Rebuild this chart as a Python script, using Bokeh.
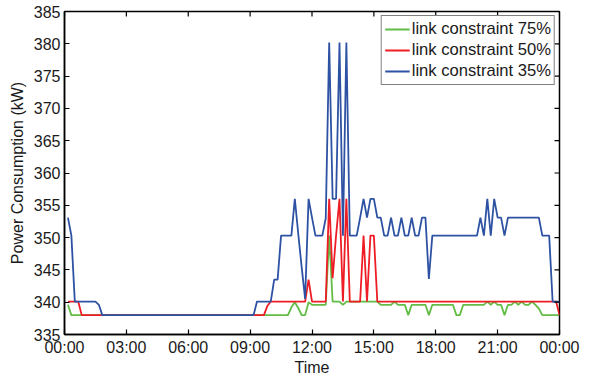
import math
from bokeh.plotting import figure
from bokeh.models import FixedTicker, Range1d
from bokeh.embed import file_html
from bokeh.resources import INLINE

# ---------------- data ----------------
x_tick_hours = [0, 3, 6, 9, 12, 15, 18, 21, 24]
x_tick_labels = ["00:00", "03:00", "06:00", "09:00", "12:00",
                 "15:00", "18:00", "21:00", "00:00"]
y_ticks = [335, 340, 345, 350, 355, 360, 365, 370, 375, 380, 385]

series_names = ["link constraint 75%", "link constraint 50%", "link constraint 35%"]
series_colors = ["#62BC45", "#EE1D25", "#2E52A3"]

# link constraint 75% (vertices of the polyline)
t75 = ["00:10", "00:20", "10:50", "11:00", "11:10", "11:20", "11:30", "11:40",
       "11:50", "12:00", "12:40", "12:50", "13:00", "13:20", "13:30", "13:40",
       "15:10", "15:20", "15:50", "16:00", "16:10", "16:30", "16:40", "16:50",
       "17:30", "17:40", "17:50", "18:50", "19:00", "19:10", "19:20", "20:20",
       "20:30", "20:40", "20:50", "21:00", "21:10", "21:20", "21:30", "21:40",
       "21:50", "22:00", "22:10", "22:20", "22:30", "22:40", "22:50", "23:00",
       "23:10", "24:00"]
v75 = [339.6, 338.0, 338.0, 339.2, 340.0, 339.1, 338.0, 338.0,
       340.0, 339.6, 339.6, 350.3, 340.1, 340.1, 339.6, 340.1,
       340.1, 339.6, 339.6, 340.1, 339.6, 339.6, 338.0, 339.6,
       339.6, 338.0, 339.6, 339.6, 338.0, 338.0, 339.6, 339.6,
       340.1, 339.6, 340.1, 339.6, 339.6, 338.0, 339.6, 339.6,
       340.1, 339.6, 340.1, 339.6, 339.6, 340.1, 339.6, 339.0,
       338.0, 338.0]

# link constraint 50%
t50 = ["00:10", "00:40", "00:50", "09:40", "09:50", "10:00", "11:40", "11:50",
       "12:00", "12:40", "12:50", "13:00", "13:10", "13:20", "13:30", "13:40",
       "13:50", "14:20", "14:30", "14:40", "14:50", "15:00", "15:10", "23:50",
       "24:00"]
v50 = [340.1, 340.1, 338.0, 338.0, 339.4, 340.1, 340.1, 343.5,
       340.1, 340.1, 356.0, 343.7, 350.3, 356.0, 340.1, 356.0,
       340.1, 340.1, 350.3, 340.1, 350.3, 350.3, 340.1, 340.1,
       338.0]

# link constraint 35%
t35 = ["00:10", "00:20", "00:30", "01:30", "01:40", "01:50", "09:10", "09:20",
       "10:00", "10:10", "10:20", "10:30", "11:00", "11:10", "11:20", "11:30",
       "11:40", "11:50", "12:00", "12:10", "12:30", "12:40", "12:50", "13:00",
       "13:10", "13:20", "13:30", "13:40", "13:50", "14:10", "14:20", "14:30",
       "14:40", "14:50", "15:00", "15:10", "15:20", "15:30", "15:40", "15:50",
       "16:00", "16:10", "16:20", "16:30", "16:40", "16:50", "17:00", "17:10",
       "17:20", "17:30", "17:40", "17:50", "20:00", "20:10", "20:20", "20:30",
       "20:40", "20:50", "21:00", "21:10", "21:20", "21:30", "23:00", "23:10",
       "23:30", "23:40", "24:00"]
v35 = [353.1, 350.3, 340.1, 340.1, 339.6, 338.0, 338.0, 340.1,
       340.1, 343.5, 343.5, 350.3, 350.3, 356.0, 350.6, 345.4,
       340.5, 356.0, 353.1, 350.3, 350.3, 353.0, 380.2, 356.0,
       356.0, 380.2, 350.3, 380.2, 350.3, 350.3, 353.1, 356.0,
       353.1, 356.0, 356.0, 353.1, 353.1, 350.3, 350.3, 353.1,
       350.3, 350.3, 353.1, 350.3, 350.3, 353.1, 350.3, 350.3,
       353.1, 353.1, 343.6, 350.3, 350.3, 353.1, 350.3, 356.0,
       350.3, 356.0, 353.1, 353.1, 350.3, 353.1, 353.1, 350.3,
       350.3, 340.1, 340.1]


def to_hours(s):
    hh, mm = s.split(":")
    return int(hh) + int(mm) / 60.0


FONT = "Liberation Sans"
TXT = "#1a1a1a"
X_MIN, X_MAX = 0, 24
Y_MIN, Y_MAX = 335, 385

p = figure(width=591, height=378, output_backend="svg", toolbar_location=None,
           x_range=Range1d(X_MIN, X_MAX), y_range=Range1d(Y_MIN, Y_MAX),
           min_border_left=64, min_border_right=32,
           min_border_top=11, min_border_bottom=42)
p.background_fill_color = "white"
p.border_fill_color = "white"
p.outline_line_color = "black"
p.outline_line_width = 1.5
p.xgrid.visible = False
p.ygrid.visible = False

for ts, vs, name, col in zip([t75, t50, t35], [v75, v50, v35],
                             series_names, series_colors):
    p.line([to_hours(t) for t in ts], vs, line_color=col, line_width=1.8,
           legend_label=name)

# mirrored tick marks on the top and right edges of the box (no labels)
p.ray(x=x_tick_hours, y=[Y_MAX] * len(x_tick_hours), length=5,
      length_units="screen", angle=-math.pi / 2, line_color="black",
      line_width=1.2)
p.ray(x=[X_MAX] * len(y_ticks), y=y_ticks, length=5,
      length_units="screen", angle=math.pi, line_color="black",
      line_width=1.2)

xa = p.xaxis[0]
xa.ticker = FixedTicker(ticks=x_tick_hours)
xa.major_label_overrides = {h: lab for h, lab in zip(x_tick_hours, x_tick_labels)}
xa.axis_label = "Time"
ya = p.yaxis[0]
ya.ticker = FixedTicker(ticks=y_ticks)
ya.axis_label = "Power Consumption (kW)"

for ax in (xa, ya):
    ax.axis_line_color = "black"
    ax.axis_line_width = 1.5
    ax.major_tick_in = 5
    ax.major_tick_out = 0
    ax.major_tick_line_color = "black"
    ax.major_tick_line_width = 1.2
    ax.minor_tick_line_color = None
    ax.major_label_text_font = FONT
    ax.major_label_text_font_size = "16px"
    ax.major_label_text_color = TXT
    ax.axis_label_text_font = FONT
    ax.axis_label_text_font_size = "16px"
    ax.axis_label_text_font_style = "normal"
    ax.axis_label_text_color = TXT
    ax.major_label_standoff = 4
xa.axis_label_standoff = 0
ya.axis_label_standoff = 5

lg = p.legend[0]
lg.location = "top_right"
lg.margin = 4
lg.padding = 3
lg.spacing = 1
lg.label_standoff = 2
lg.glyph_width = 25
lg.glyph_height = 18
lg.label_height = 18
lg.label_text_font = FONT
lg.label_text_font_size = "16.6px"
lg.label_text_color = TXT
lg.border_line_color = "black"
lg.border_line_width = 1.5
lg.background_fill_color = "white"
lg.background_fill_alpha = 1.0

open("out.html", "w").write(file_html(p, INLINE))
